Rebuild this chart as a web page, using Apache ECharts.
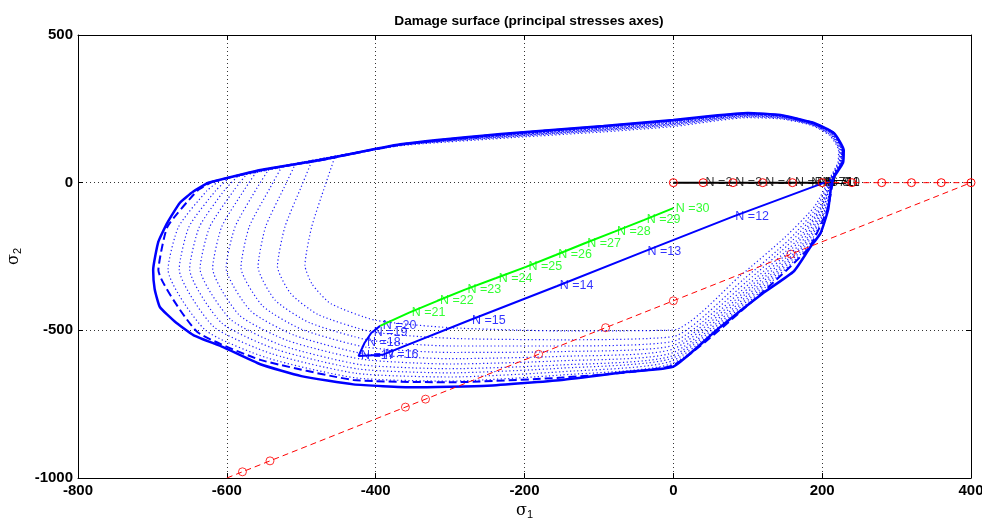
<!DOCTYPE html>
<html><head><meta charset="utf-8">
<script src="https://cdn.jsdelivr.net/npm/echarts@6/dist/echarts.min.js"></script>
<style>html,body{margin:0;padding:0;background:#fff}#c{width:982px;height:521px}</style>
</head><body><div id="c"></div>
<script>
// ---- tick labels ----
const xTicks = [-800, -600, -400, -200, 0, 200, 400];
const yTicks = [-1000, -500, 0, 500];

// ---- damage surfaces (sigma1, sigma2) ----
const outerSurface = [[-625,0],[-555,43],[-474,77],[-367,130],[-232,165],[-94,192],[0,212],[50,226],[100,236],[144,229],[189,202],[216,168],[229,110],[228,67],[216,19],[212,-14],[208,-92],[198,-170],[183,-222],[162,-300],[120,-375],[60,-495],[0,-623],[-60,-640],[-150,-668],[-250,-688],[-350,-693],[-430,-683],[-500,-655],[-555,-615],[-605,-557],[-645,-516],[-670,-470],[-690,-421],[-697,-360],[-699,-296],[-692,-200],[-680,-136],[-663,-68],[-645,-30],[-625,0]];
const dashedSurface = [[-620,3],[-555,42],[-474,76],[-367,129],[-232,164],[-94,191],[0,211],[100,235],[144,228],[188,202],[216,167],[228,110],[227,67],[216,19],[207,-92],[182,-221],[119,-373],[0,-618],[-150,-660],[-300,-676],[-430,-668],[-555,-600],[-640,-505],[-692,-296],[-680,-150],[-640,-28],[-620,3]];
const dotted1 = [[-608,10],[-367,130],[-232,164],[-94,190],[0,210],[100,234],[144,228],[188,201],[215,167],[228,110],[227,67],[216,19],[206,-91],[180,-218],[117,-369],[0,-611],[-150,-651],[-300,-672],[-427,-661],[-545,-594],[-629,-499],[-679,-294],[-665,-150],[-627,-28],[-608,10]];
const dotted2 = [[-596,18],[-367,129],[-232,162],[-94,189],[0,208],[100,233],[144,227],[187,201],[215,167],[228,110],[227,67],[215,19],[205,-90],[177,-216],[115,-365],[0,-602],[-150,-640],[-300,-658],[-425,-646],[-539,-580],[-618,-487],[-664,-293],[-651,-150],[-615,-27],[-596,18]];
const dotted3 = [[-584,25],[-367,129],[-232,161],[-94,187],[0,207],[100,232],[144,226],[187,200],[215,166],[227,110],[226,67],[215,19],[204,-89],[175,-213],[113,-361],[0,-593],[-150,-628],[-300,-644],[-423,-631],[-532,-566],[-607,-475],[-650,-292],[-637,-150],[-603,-25],[-584,25]];
const dotted4 = [[-572,33],[-367,128],[-232,160],[-94,186],[0,205],[100,231],[144,225],[187,200],[214,166],[227,110],[226,67],[214,19],[202,-88],[173,-211],[111,-356],[0,-585],[-150,-617],[-300,-630],[-421,-616],[-526,-551],[-595,-463],[-636,-291],[-623,-150],[-590,-24],[-572,33]];
const dotted5 = [[-559,41],[-367,128],[-232,159],[-94,184],[0,203],[100,230],[144,224],[187,199],[214,165],[226,110],[225,67],[214,19],[201,-87],[170,-208],[108,-352],[0,-575],[-150,-603],[-300,-614],[-418,-598],[-518,-535],[-583,-449],[-619,-290],[-607,-150],[-576,-22],[-559,41]];
const dotted6 = [[-543,48],[-367,128],[-232,158],[-94,182],[0,201],[100,228],[144,223],[187,199],[213,164],[226,110],[225,67],[214,19],[199,-86],[167,-204],[106,-346],[0,-563],[-150,-588],[-300,-596],[-416,-579],[-509,-517],[-568,-434],[-601,-288],[-589,-150],[-560,-20],[-543,48]];
const dotted7 = [[-526,55],[-367,127],[-232,156],[-94,180],[0,199],[100,227],[144,221],[186,198],[213,163],[225,110],[224,67],[213,19],[198,-85],[164,-201],[103,-340],[0,-551],[-150,-572],[-300,-575],[-413,-557],[-500,-496],[-552,-417],[-581,-287],[-570,-150],[-542,-18],[-526,55]];
const dotted8 = [[-508,63],[-367,127],[-232,155],[-94,178],[0,197],[100,225],[144,220],[186,197],[212,162],[224,110],[223,67],[213,19],[196,-84],[160,-196],[99,-334],[0,-537],[-150,-553],[-300,-553],[-409,-533],[-489,-474],[-535,-398],[-558,-285],[-548,-150],[-523,-16],[-508,63]];
const dotted9 = [[-486,72],[-367,126],[-232,153],[-94,176],[0,194],[100,223],[144,218],[186,196],[211,161],[223,110],[222,67],[212,19],[193,-82],[156,-192],[95,-326],[0,-521],[-150,-532],[-300,-527],[-405,-505],[-477,-447],[-514,-376],[-532,-283],[-522,-150],[-500,-14],[-486,72]];
const dotted10 = [[-455,86],[-367,125],[-232,150],[-94,172],[0,190],[100,220],[144,216],[185,195],[210,160],[222,110],[221,67],[211,19],[190,-80],[150,-185],[90,-315],[0,-499],[-150,-502],[-300,-491],[-400,-466],[-460,-410],[-485,-345],[-495,-280],[-486,-150],[-468,-10],[-455,86]];

// ---- stress path N = 1..30 ----
const pathN = [1,2,3,4,5,6,7,8,9,10,11,12,13,14,15,16,17,18,19,20,21,22,23,24,25,26,27,28,29,30];
const pathX = [0,40,80,120,160,182,192,197,200,202,203,80,-38,-156,-274,-391,-423,-415,-406,-394,-355,-317,-280,-238,-198,-158,-119,-79,-39,0];
const pathY = [0,0,0,0,0,0,0,0,0,0,0,-115,-232,-350,-466,-583,-587,-543,-509,-485,-440,-400,-362,-323,-285,-245,-205,-166,-126,-86];

// ---- red reference lines ----
const redAxisX = [0,40,80,120,160,200,240,280,320,360,400];
const redAxisY = [0,0,0,0,0,0,0,0,0,0,0];
const redDiagX = [-600,400];
const redDiagY = [-1000,0];
const redDiagMarkX = [-579,-542,-360,-333,-181,-91,0,158];
const redDiagMarkY = [-979,-942,-760,-733,-581,-491,-400,-242];

const zip = (a, b) => a.map((v, i) => [v, b[i]]);
function pathSlice(from, to) {
  const out = [];
  for (let i = 0; i < pathN.length; i++) if (pathN[i] >= from && pathN[i] <= to) out.push([pathX[i], pathY[i]]);
  return out;
}
function labelSlice(from, to) {
  const out = [];
  for (let i = 0; i < pathN.length; i++) if (pathN[i] >= from && pathN[i] <= to) out.push({value: [pathX[i], pathY[i]], name: 'N =' + pathN[i]});
  return out;
}

const BLUE = '#0000ff', GREEN = '#00ff00', RED = '#ff0000';
const FONT = 'Liberation Sans, Arial, sans-serif';
const dotted = [dotted1, dotted2, dotted3, dotted4, dotted5, dotted6, dotted7, dotted8, dotted9, dotted10];
const series = [];
dotted.forEach(d => series.push({type: 'line', data: d, showSymbol: false, silent: true, smooth: 0.2,
  lineStyle: {color: BLUE, width: 1.2, type: [1.2, 2.5], opacity: 0.9}}));
series.push({type: 'line', data: dashedSurface, showSymbol: false, smooth: 0.15, lineStyle: {color: BLUE, width: 2, type: [8, 4]}});
series.push({type: 'line', data: outerSurface, showSymbol: false, smooth: 0.15, lineStyle: {color: BLUE, width: 2.5}});
series.push({type: 'line', data: zip(redAxisX, redAxisY), symbol: 'circle', symbolSize: 8, showSymbol: true,
  itemStyle: {color: 'rgba(0,0,0,0)', borderColor: RED, borderWidth: 1},
  lineStyle: {color: RED, width: 1, type: [6, 4]}});
series.push({type: 'line', data: zip(redDiagX, redDiagY), showSymbol: false, lineStyle: {color: RED, width: 1, type: [6, 4]}});
series.push({type: 'scatter', data: zip(redDiagMarkX, redDiagMarkY), symbol: 'circle', symbolSize: 8,
  itemStyle: {color: 'rgba(0,0,0,0)', borderColor: RED, borderWidth: 1}});
series.push({type: 'line', data: pathSlice(1, 11), showSymbol: false, lineStyle: {color: '#000', width: 2}});
series.push({type: 'line', data: pathSlice(11, 20), showSymbol: false, lineStyle: {color: BLUE, width: 2}});
series.push({type: 'line', data: pathSlice(20, 30), showSymbol: false, lineStyle: {color: GREEN, width: 2}});
function labelSeries(from, to, color) {
  return {type: 'scatter', data: labelSlice(from, to), symbolSize: 1, itemStyle: {color: 'rgba(0,0,0,0)'},
    label: {show: true, position: 'right', distance: 2, formatter: '{b}', color: color,
      fontFamily: FONT, fontSize: 12.5}};
}
series.push(labelSeries(2, 11, '#000'));
series.push(labelSeries(12, 20, BLUE));
series.push(labelSeries(21, 30, GREEN));

const tickFont = {color: '#000', fontWeight: 'bold', fontSize: 15, fontFamily: FONT, formatter: v => String(v)};
const gridLine = {show: true, lineStyle: {color: '#333', width: 1, type: [1, 3]}};
const subRich = {a: {fontSize: 16, color: '#000', lineHeight: 20, fontFamily: 'DejaVu Serif, serif'},
  b: {fontSize: 11, color: '#000', verticalAlign: 'bottom', lineHeight: 10, fontFamily: FONT}};
const chart = echarts.init(document.getElementById('c'), null, {renderer: 'canvas'});
chart.setOption({
  animation: false,
  backgroundColor: '#fff',
  title: {text: 'Damage surface (principal stresses axes)', left: 524, textAlign: 'center', top: 9,
    textStyle: {fontSize: 13.7, fontWeight: 'bold', color: '#000', fontFamily: FONT}},
  grid: {left: 78, right: 11, top: 35, bottom: 43, outerBoundsMode: 'none', containLabel: false},
  xAxis: [{
    type: 'value', position: 'bottom', min: xTicks[0], max: xTicks[xTicks.length - 1], interval: 200,
    axisLine: {onZero: false, lineStyle: {color: '#000', width: 1}}, axisTick: {inside: true, length: 5, lineStyle: {color: '#000'}},
    axisLabel: Object.assign({margin: 5, showMinLabel: true, showMaxLabel: true}, tickFont),
    splitLine: gridLine,
    name: '{a|σ}{b|1}', nameLocation: 'middle', nameGap: 14, nameTextStyle: {rich: subRich}
  }, {
    type: 'value', position: 'top', min: xTicks[0], max: xTicks[xTicks.length - 1], interval: 200,
    axisLine: {onZero: false, lineStyle: {color: '#000', width: 1}}, axisTick: {inside: true, length: 5, lineStyle: {color: '#000'}},
    axisLabel: {show: false}, splitLine: {show: false}
  }],
  yAxis: [{
    type: 'value', position: 'left', min: yTicks[0], max: yTicks[yTicks.length - 1], interval: 500,
    axisLine: {show: true, onZero: false, lineStyle: {color: '#000', width: 1}}, axisTick: {show: true, inside: true, length: 5, lineStyle: {color: '#000'}},
    axisLabel: Object.assign({margin: 5, showMinLabel: true, showMaxLabel: true}, tickFont),
    splitLine: gridLine,
    name: '{a|σ}{b|2}', nameLocation: 'middle', nameGap: 46, nameRotate: 90, nameTextStyle: {rich: subRich}
  }, {
    type: 'value', position: 'right', min: yTicks[0], max: yTicks[yTicks.length - 1], interval: 500,
    axisLine: {show: true, onZero: false, lineStyle: {color: '#000', width: 1}}, axisTick: {show: true, inside: true, length: 5, lineStyle: {color: '#000'}},
    axisLabel: {show: false}, splitLine: {show: false}
  }],
  series: series
});
</script></body></html>
